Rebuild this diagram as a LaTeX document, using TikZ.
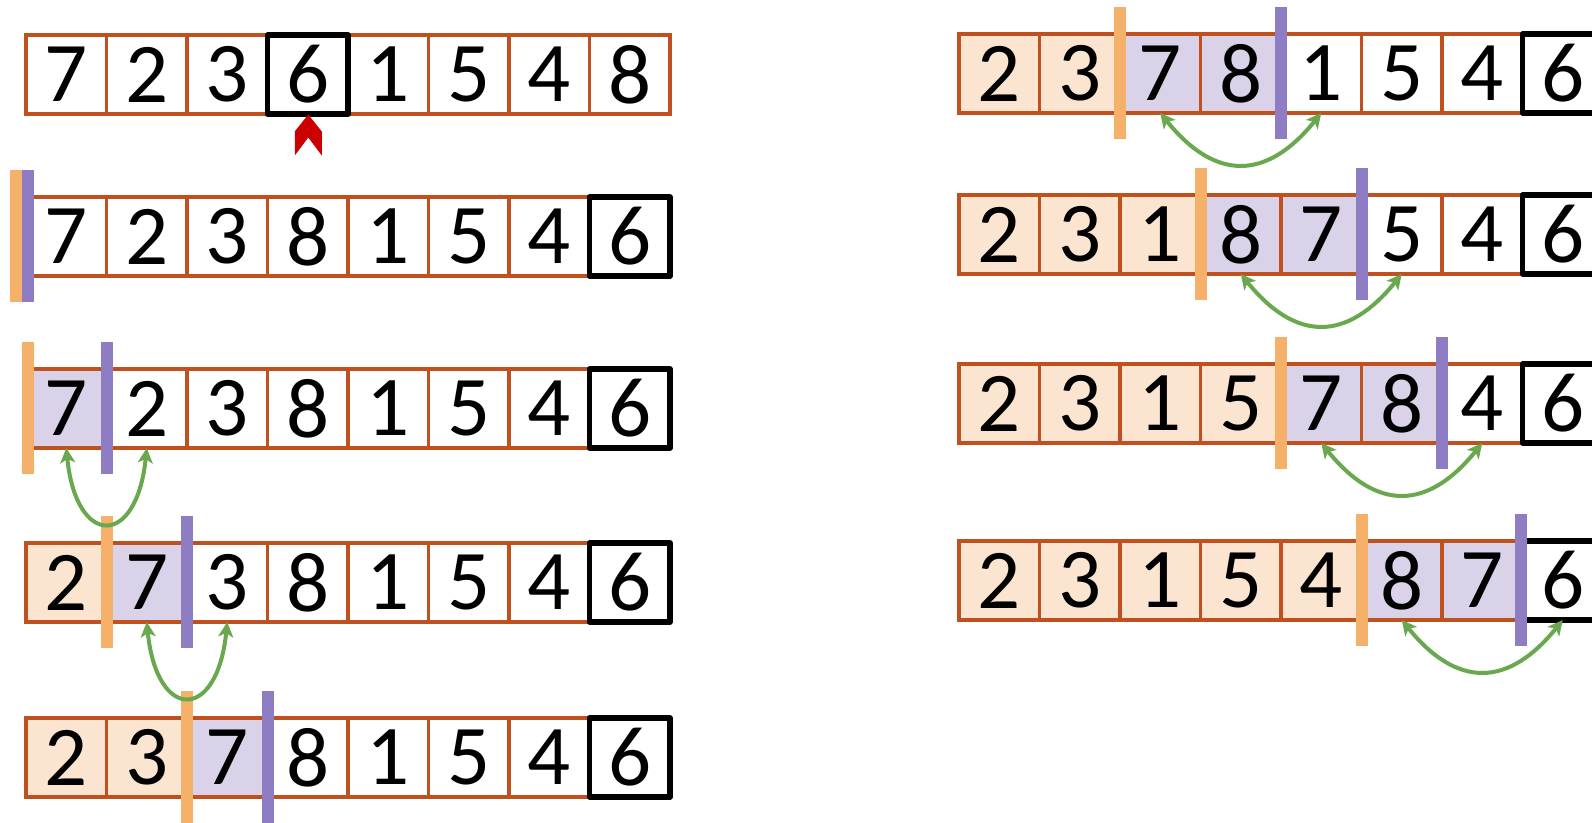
\documentclass[tikz,border=0pt]{standalone}
\usepackage{fontspec}
\setmainfont{Carlito}
\usetikzlibrary{arrows.meta}
\definecolor{cellline}{RGB}{192,80,30}
\definecolor{obar}{RGB}{245,176,106}
\definecolor{pbar}{RGB}{142,125,195}
\definecolor{lorange}{RGB}{252,229,208}
\definecolor{lpurple}{RGB}{217,210,233}
\definecolor{swapgreen}{RGB}{106,168,79}
\definecolor{pivred}{RGB}{204,0,0}
\tikzset{
  cell/.style={draw=cellline, line width=3.5pt, minimum width=80.5pt, minimum height=79pt,
    inner sep=0pt, outer sep=0pt, font=\fontsize{85pt}{90pt}\selectfont},
  pivotbox/.style={draw=black, line width=5.5pt, line join=round},
  swap/.style={draw=swapgreen, line width=4pt,
    {Stealth[length=15pt,width=15pt,inset=4pt]}-{Stealth[length=15pt,width=15pt,inset=4pt]}}
}
% #1 name, #2 x0, #3 ytop, #4 values, #5 orange count, #6 purple end
\newcommand\cellrow[6]{%
  \foreach \v [count=\i from 0] in {#4} {%
    \ifnum\i<#5\relax \def\cfill{lorange}\else\ifnum\i<#6\relax \def\cfill{lpurple}\else\def\cfill{white}\fi\fi
    \node[cell, fill=\cfill] (#1c\i) at ({#2+80.5*\i+40.25},{#3+39.5}) {\v};
  }}
% #1 colour, #2 node, #3 x offset from its west side
\newcommand\vbar[3]{%
  \fill[#1] ([xshift=#3-6pt, yshift=27pt]#2.north west) rectangle ([xshift=#3+6pt, yshift=-26pt]#2.south west);}
\newcommand\pbox[1]{\draw[pivotbox] (#1.north west) rectangle (#1.south east);}
\begin{document}
\begin{tikzpicture}[x=1pt,y=-1pt]
\useasboundingbox (0,0) rectangle (1592,822);
\clip (0,0) rectangle (1592,822);
% left column
\cellrow{La}{26}{35}{7,2,3,6,1,5,4,8}{0}{0}
\cellrow{Lb}{26}{197}{7,2,3,8,1,5,4,6}{0}{0}
\cellrow{Lc}{26}{369}{7,2,3,8,1,5,4,6}{0}{1}
\cellrow{Ld}{26}{543}{2,7,3,8,1,5,4,6}{1}{2}
\cellrow{Le}{26}{718}{2,3,7,8,1,5,4,6}{2}{3}
% right column
\cellrow{Ra}{959}{34}{2,3,7,8,1,5,4,6}{2}{4}
\cellrow{Rb}{959}{195}{2,3,1,8,7,5,4,6}{3}{5}
\cellrow{Rc}{959}{364}{2,3,1,5,7,8,4,6}{4}{6}
\cellrow{Rd}{959}{541}{2,3,1,5,4,8,7,6}{5}{7}
% pivot boxes
\pbox{Lac3}
\pbox{Lbc7}\pbox{Lcc7}\pbox{Ldc7}\pbox{Lec7}
\pbox{Rac7}\pbox{Rbc7}\pbox{Rcc7}\pbox{Rdc7}
% pivot marker
\begin{scope}[shift={(Lac3.south)}]
\fill[pivred] (-13,41.5) -- (-13,17.5) -- (0.5,0.5) -- (14,17.5) -- (14,41.5) -- (0.5,23.5) -- cycle;
\end{scope}
% boundary bars
\vbar{obar}{Lbc0}{-10pt}\vbar{pbar}{Lbc0}{2pt}
\vbar{obar}{Lcc0}{2pt}\vbar{pbar}{Lcc1}{0pt}
\vbar{obar}{Ldc1}{0pt}\vbar{pbar}{Ldc2}{0pt}
\vbar{obar}{Lec2}{0pt}\vbar{pbar}{Lec3}{0pt}
\vbar{obar}{Rac2}{0pt}\vbar{pbar}{Rac4}{0pt}
\vbar{obar}{Rbc3}{0pt}\vbar{pbar}{Rbc5}{0pt}
\vbar{obar}{Rcc4}{0pt}\vbar{pbar}{Rcc6}{0pt}
\vbar{obar}{Rdc5}{0pt}\vbar{pbar}{Rdc7}{-1.5pt}
% swaps
\draw[swap] (Lcc0.south) .. controls +(10,100) and +(-10,100) .. (Lcc1.south);
\draw[swap] (Ldc1.south) .. controls +(10,100) and +(-10,100) .. (Ldc2.south);
\draw[swap] (Rac2.south) .. controls +(55,68) and +(-55,68) .. (Rac4.south);
\draw[swap] (Rbc3.south) .. controls +(55,68) and +(-55,68) .. (Rbc5.south);
\draw[swap] (Rcc4.south) .. controls +(55,68) and +(-55,68) .. (Rcc6.south);
\draw[swap] (Rdc5.south) .. controls +(55,68) and +(-55,68) .. (Rdc7.south);
\end{tikzpicture}
\end{document}
